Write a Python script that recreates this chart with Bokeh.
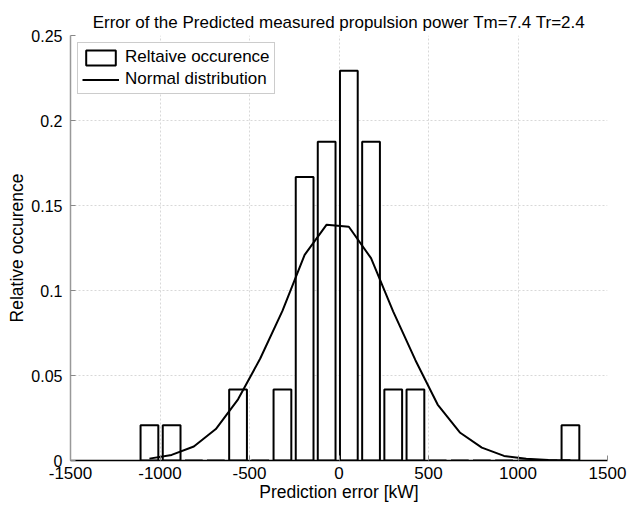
from bokeh.plotting import figure
from bokeh.models import Range1d, FixedTicker, CustomJSTickFormatter, Legend, LegendItem
from bokeh.embed import file_html
from bokeh.resources import INLINE

# Histogram bin centers (kW) and relative occurrence
bin_centers = [-1059, -935, -811, -688, -564, -440, -316, -192, -69, 55,
               179, 303, 427, 551, 675, 798, 922, 1046, 1170, 1293]
rel_occurrence = [0.0208, 0.0208, 0.0, 0.0, 0.0417, 0.0, 0.0417, 0.1667, 0.1875, 0.2292,
                  0.1875, 0.0417, 0.0417, 0.0, 0.0, 0.0, 0.0, 0.0, 0.0, 0.0208]
# Normal distribution curve evaluated at the bin centers
normal_dist = [0.0011, 0.0033, 0.0082, 0.0185, 0.036, 0.060, 0.088, 0.121, 0.1387, 0.1375,
               0.119, 0.0876, 0.059, 0.0329, 0.0165, 0.0076, 0.0027, 0.001, 0.0003, 0.0001]

x_ticks = [-1500, -1000, -500, 0, 500, 1000, 1500]
y_ticks = [0, 0.05, 0.1, 0.15, 0.2, 0.25]

FONT = "Liberation Sans"

p = figure(width=629, height=506, output_backend="svg", toolbar_location=None,
           x_range=Range1d(-1500, 1500), y_range=Range1d(0, 0.25),
           min_border_left=70, min_border_right=22, min_border_top=35, min_border_bottom=46,
           title="Error of the Predicted measured propulsion power Tm=7.4 Tr=2.4")
p.outline_line_color = None
p.background_fill_color = "white"
p.border_fill_color = "white"

p.title.align = "center"
p.title.text_font = FONT
p.title.text_font_size = "17px"
p.title.text_font_style = "normal"
p.title.text_color = "black"
p.title.offset = 0
p.title.standoff = 7

bw = 0.8 * (bin_centers[1] - bin_centers[0])
bars = p.vbar(x=bin_centers, top=rel_occurrence, width=bw, bottom=0,
              fill_color="white", line_color="black", line_width=2)
curve = p.line(x=bin_centers, y=normal_dist, line_color="black", line_width=2)

for ax in (p.xaxis[0], p.yaxis[0]):
    ax.major_label_text_font = FONT
    ax.major_label_text_color = "black"
    ax.axis_label_text_font = FONT
    ax.axis_label_text_font_size = "17.5px"
    ax.axis_label_text_font_style = "normal"
    ax.axis_label_text_color = "black"
    ax.major_tick_in = 5
    ax.major_tick_out = 0
    ax.minor_tick_in = 0
    ax.minor_tick_out = 0
    ax.major_tick_line_color = "#888888"

p.xaxis.major_label_text_font_size = "17px"
p.yaxis.major_label_text_font_size = "16px"
p.xaxis.ticker = FixedTicker(ticks=x_ticks)
p.yaxis.ticker = FixedTicker(ticks=y_ticks)
p.xaxis.formatter = CustomJSTickFormatter(code="return String(Math.round(tick));")
p.yaxis.formatter = CustomJSTickFormatter(code="return String(Math.round(tick*1000)/1000);")
p.xaxis.axis_label = "Prediction error [kW]"
p.yaxis.axis_label = "Relative occurence"
p.xaxis.axis_line_color = "black"
p.xaxis.axis_line_width = 1.5
p.yaxis.axis_line_color = "#999999"
p.yaxis.axis_line_width = 1.5
p.xaxis.major_label_standoff = 6
p.xaxis.axis_label_standoff = 0
p.yaxis.major_label_standoff = 8
p.yaxis.axis_label_standoff = 1

p.grid.grid_line_color = "#d8d8d8"
p.grid.grid_line_dash = "2 2"
p.grid.grid_line_width = 1

legend = Legend(items=[LegendItem(label="Reltaive occurence", renderers=[bars]),
                       LegendItem(label="Normal distribution", renderers=[curve])],
                location="top_left")
legend.margin = 7
legend.padding = 4
legend.spacing = 2
legend.glyph_width = 37
legend.glyph_height = 19
legend.label_standoff = 6
legend.label_text_font = FONT
legend.label_text_font_size = "17px"
legend.label_text_color = "black"
legend.label_height = 19
legend.border_line_color = "#999999"
legend.border_line_width = 1
legend.background_fill_color = "white"
legend.background_fill_alpha = 1
p.add_layout(legend)

open("out.html", "w").write(file_html(p, INLINE))
